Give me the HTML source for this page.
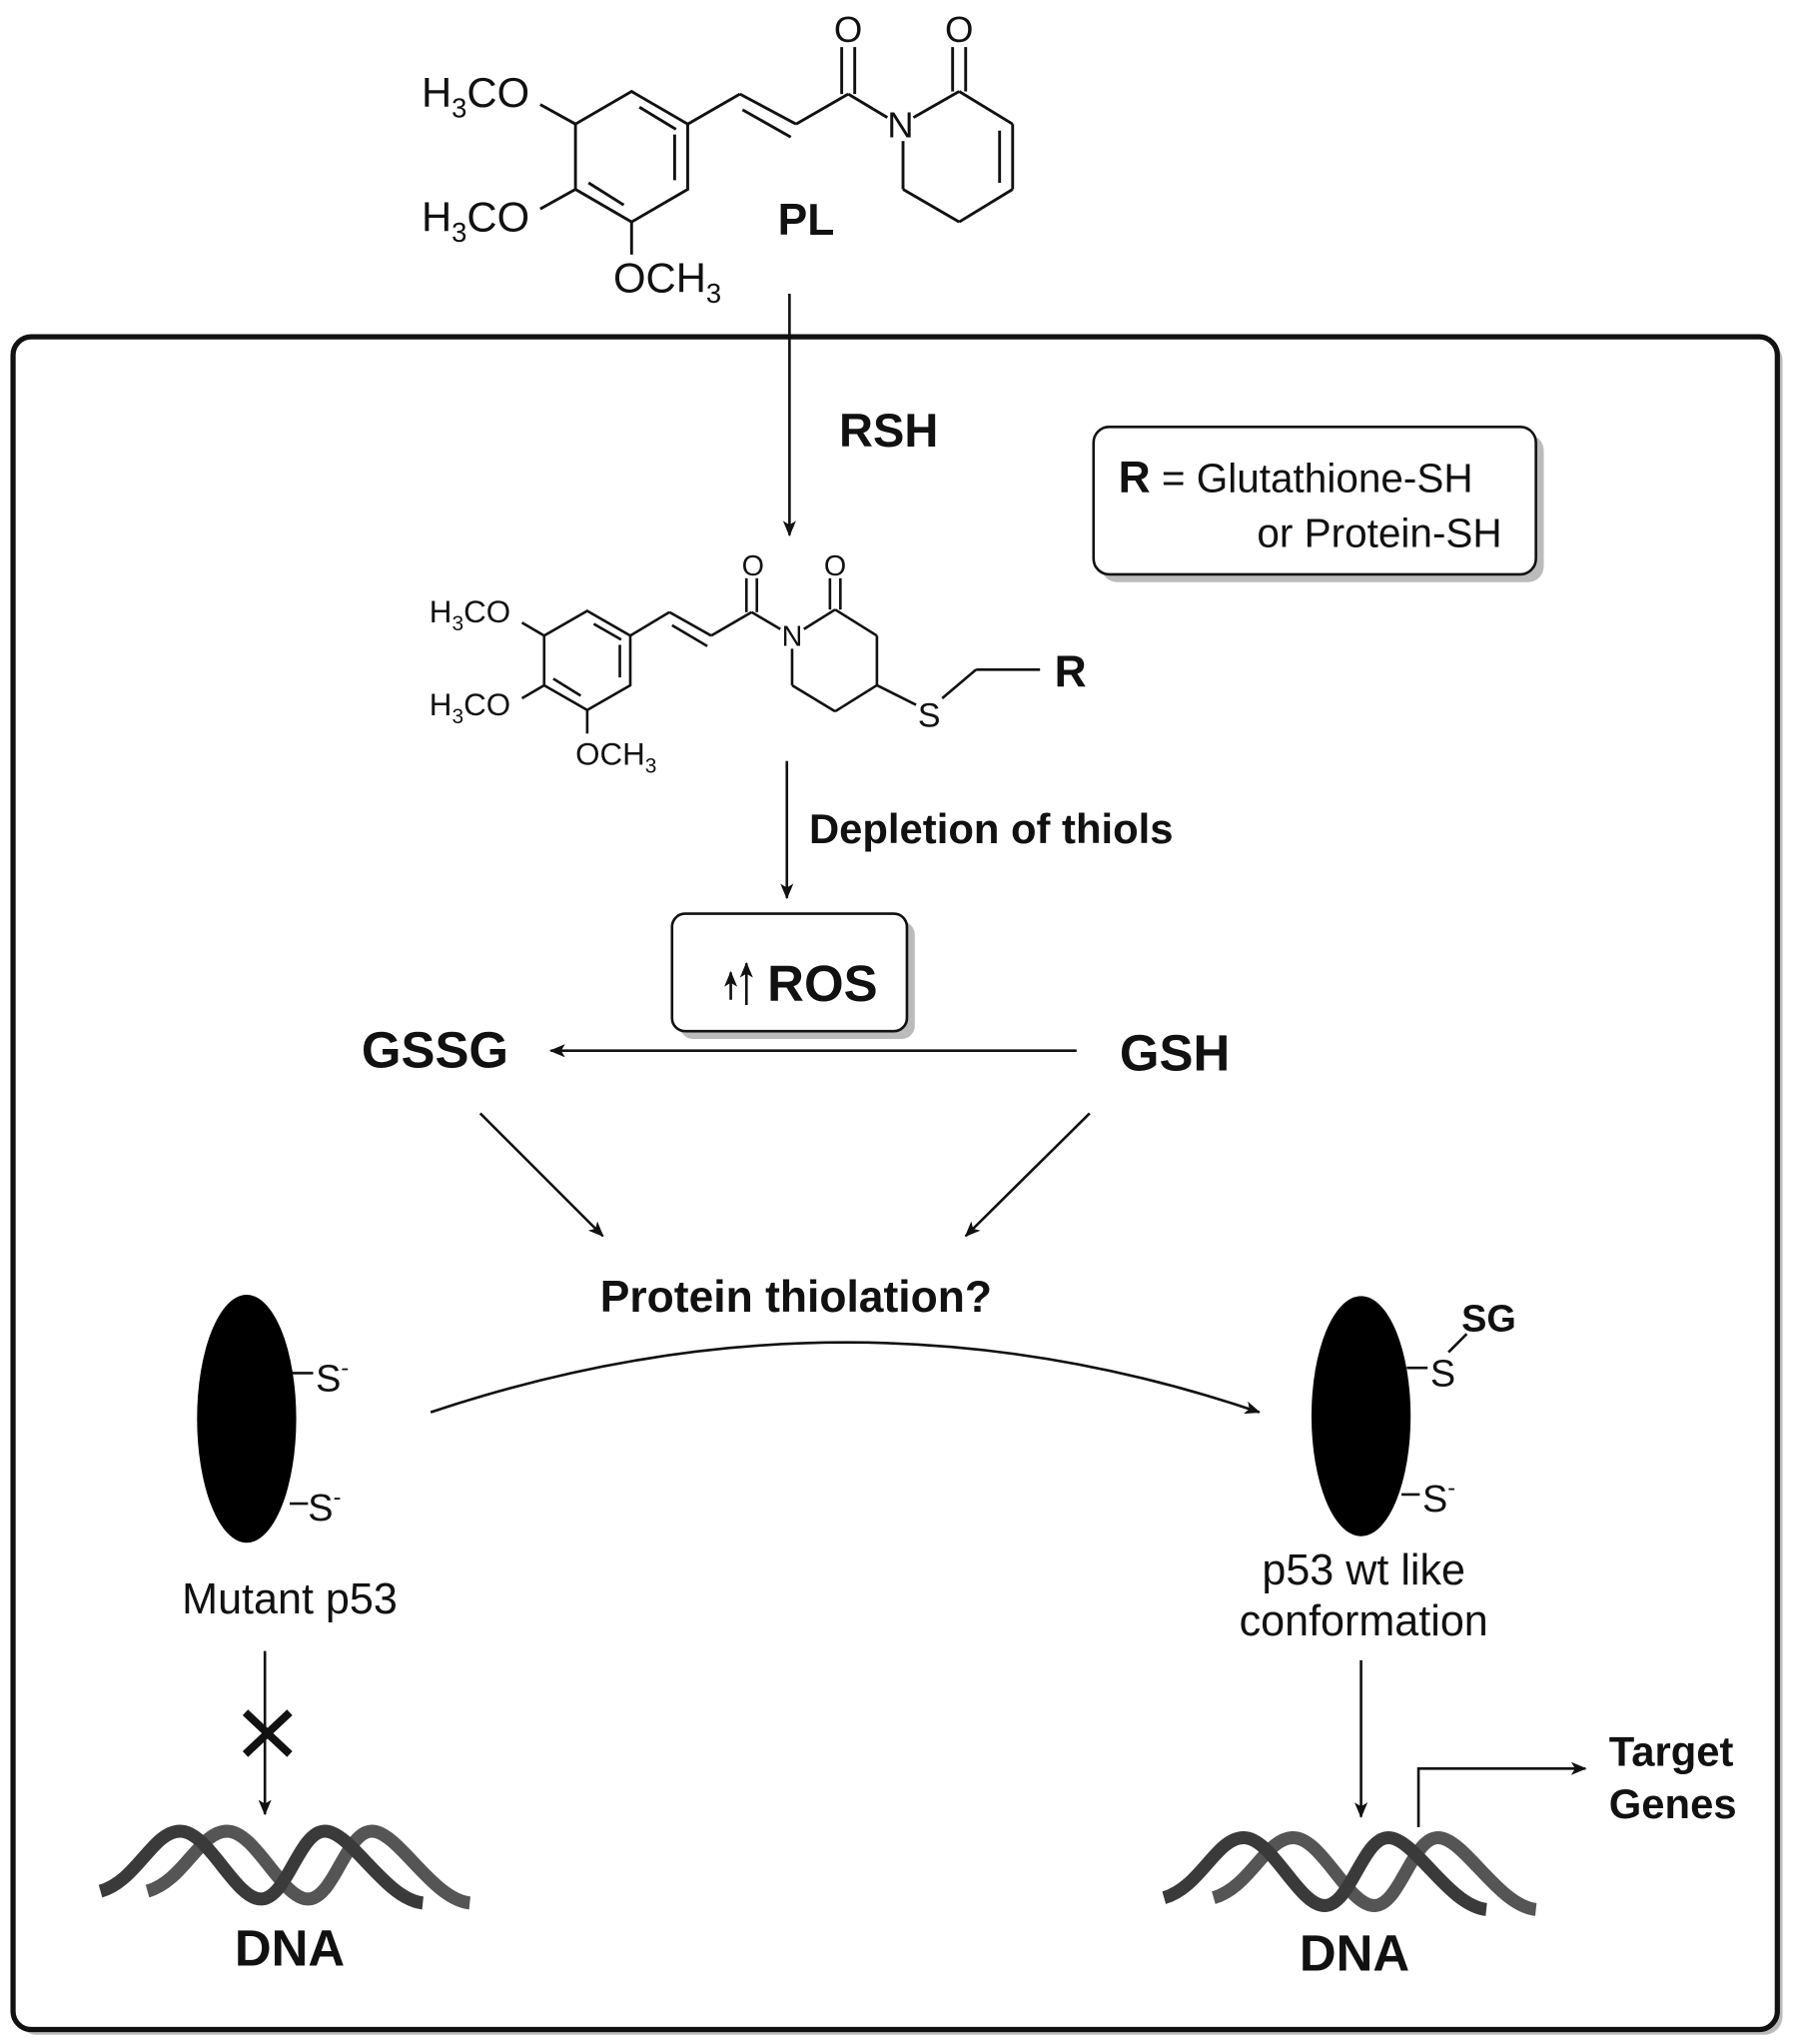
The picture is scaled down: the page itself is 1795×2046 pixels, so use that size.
<!DOCTYPE html>
<html><head><meta charset="utf-8"><style>
html,body{margin:0;padding:0;background:#fff}
svg{display:block}
text{font-family:"Liberation Sans",Arial,sans-serif;fill:#111}
.b{font-weight:bold}
</style></head><body>
<svg width="1795" height="2046" viewBox="0 0 1374 1566" xmlns="http://www.w3.org/2000/svg">
<defs>
<marker id="ah" viewBox="0 0 12 10" refX="11" refY="5" markerWidth="12" markerHeight="10" markerUnits="userSpaceOnUse" orient="auto"><path d="M0,0 L12,5 L0,10 L3,5 z" fill="#111"/></marker>
<path id="strand" d="M0,46 C28,38 40,0 61,0 C83,0 103,52 123,52 C143,52 152,0 172,0 C192,0 218,52 247,55"/>
</defs>
<!-- main box -->
<rect x="14" y="262" width="1352" height="1297" rx="14" fill="#bbb"/>
<rect x="10" y="258" width="1352" height="1297" rx="14" fill="#fff" stroke="#111" stroke-width="4"/>

<!-- PL structure -->
<g stroke="#111" stroke-width="2.2" fill="none">
<polygon points="484,70 527,95 527,145 484,170 441,145 441,95"/>
<line x1="490" y1="82" x2="518" y2="99"/><line x1="517" y1="103" x2="517" y2="138"/><line x1="451" y1="140" x2="478" y2="157"/>
<line x1="441" y1="95" x2="414" y2="80"/><line x1="441" y1="145" x2="414" y2="160"/><line x1="484" y1="170" x2="484" y2="195"/>
<line x1="527" y1="95" x2="567" y2="72"/><line x1="567" y1="72" x2="610" y2="95"/><line x1="569" y1="84" x2="606" y2="105"/>
<line x1="610" y1="95" x2="650" y2="72"/><line x1="645" y1="72" x2="645" y2="36"/><line x1="655" y1="72" x2="655" y2="36"/>
<line x1="650" y1="72" x2="680" y2="90"/>
<line x1="700" y1="90" x2="735" y2="70"/><line x1="730" y1="70" x2="730" y2="36"/><line x1="740" y1="70" x2="740" y2="36"/>
<line x1="735" y1="70" x2="776" y2="95"/><line x1="776" y1="95" x2="776" y2="145"/><line x1="766" y1="100" x2="766" y2="140"/>
<line x1="776" y1="145" x2="735" y2="170"/><line x1="735" y1="170" x2="692" y2="145"/><line x1="692" y1="145" x2="692" y2="108"/>
</g>
<text x="650" y="32" font-size="28" text-anchor="middle">O</text>
<text x="735" y="32" font-size="28" text-anchor="middle">O</text>
<text x="690" y="105" font-size="28" text-anchor="middle">N</text>
<text x="323" y="82" font-size="32">H<tspan font-size="21" dy="8">3</tspan><tspan dy="-8">CO</tspan></text>
<text x="323" y="177" font-size="32">H<tspan font-size="21" dy="8">3</tspan><tspan dy="-8">CO</tspan></text>
<text x="470" y="224" font-size="32">OCH<tspan font-size="21" dy="8">3</tspan></text>
<text x="596" y="180" font-size="34" class="b">PL</text>

<line x1="605" y1="225" x2="605" y2="410" stroke="#111" stroke-width="2" marker-end="url(#ah)"/>
<text x="643" y="342" font-size="36" class="b">RSH</text>

<!-- R box -->
<rect x="844" y="333" width="339" height="113" rx="12" fill="#bbb"/>
<rect x="838" y="327" width="339" height="113" rx="12" fill="#fff" stroke="#111" stroke-width="2"/>
<text x="857" y="377" font-size="31"><tspan class="b" font-size="34">R</tspan> = Glutathione-SH</text>
<text x="1151" y="419" font-size="31" text-anchor="end">or Protein-SH</text>

<!-- second structure -->
<g stroke="#111" stroke-width="2" fill="none">
<polygon points="450,468 483,487 483,525 450,544 417,525 417,487"/>
<line x1="455" y1="478" x2="476" y2="490"/><line x1="475" y1="494" x2="475" y2="519"/><line x1="424" y1="520" x2="445" y2="533"/>
<line x1="417" y1="487" x2="400" y2="477"/><line x1="417" y1="525" x2="400" y2="535"/><line x1="450" y1="544" x2="450" y2="562"/>
<line x1="483" y1="487" x2="513" y2="469"/><line x1="513" y1="469" x2="545" y2="487"/><line x1="515" y1="479" x2="542" y2="495"/>
<line x1="545" y1="487" x2="576" y2="469"/><line x1="572" y1="469" x2="572" y2="443"/><line x1="580" y1="469" x2="580" y2="443"/>
<line x1="576" y1="469" x2="598" y2="482"/>
<line x1="616" y1="482" x2="640" y2="467"/><line x1="636" y1="467" x2="636" y2="443"/><line x1="644" y1="467" x2="644" y2="443"/>
<line x1="640" y1="467" x2="672" y2="487"/><line x1="672" y1="487" x2="672" y2="525"/><line x1="672" y1="525" x2="640" y2="545"/>
<line x1="640" y1="545" x2="607" y2="525"/><line x1="607" y1="525" x2="607" y2="497"/>
<line x1="672" y1="525" x2="702" y2="540"/><line x1="722" y1="535" x2="748" y2="513"/><line x1="748" y1="513" x2="797" y2="513"/>
</g>
<text x="577" y="441" font-size="22" text-anchor="middle">O</text>
<text x="640" y="441" font-size="22" text-anchor="middle">O</text>
<text x="607" y="495" font-size="22" text-anchor="middle">N</text>
<text x="712" y="557" font-size="26" text-anchor="middle">S</text>
<text x="808" y="526" font-size="34" class="b">R</text>
<text x="329" y="477" font-size="24">H<tspan font-size="16" dy="6">3</tspan><tspan dy="-6">CO</tspan></text>
<text x="329" y="548" font-size="24">H<tspan font-size="16" dy="6">3</tspan><tspan dy="-6">CO</tspan></text>
<text x="441" y="586" font-size="24">OCH<tspan font-size="16" dy="6">3</tspan></text>

<line x1="603" y1="583" x2="603" y2="688" stroke="#111" stroke-width="2" marker-end="url(#ah)"/>
<text x="620" y="646" font-size="32" class="b">Depletion of thiols</text>

<!-- ROS -->
<rect x="521" y="706" width="180" height="90" rx="10" fill="#bbb"/>
<rect x="515" y="700" width="180" height="90" rx="10" fill="#fff" stroke="#111" stroke-width="2"/>
<line x1="560" y1="766" x2="560" y2="745" stroke="#111" stroke-width="2" marker-end="url(#ah)"/>
<line x1="572" y1="770" x2="572" y2="738" stroke="#111" stroke-width="2" marker-end="url(#ah)"/>
<text x="588" y="767" font-size="39" class="b">ROS</text>

<text x="277" y="818" font-size="39" class="b">GSSG</text>
<text x="858" y="820" font-size="39" class="b">GSH</text>
<line x1="825" y1="805" x2="422" y2="805" stroke="#111" stroke-width="2" marker-end="url(#ah)"/>
<line x1="368" y1="853" x2="462" y2="947" stroke="#111" stroke-width="2" marker-end="url(#ah)"/>
<line x1="835" y1="853" x2="740" y2="947" stroke="#111" stroke-width="2" marker-end="url(#ah)"/>
<text x="610" y="1005" font-size="34" class="b" text-anchor="middle">Protein thiolation?</text>

<!-- left protein -->
<ellipse cx="189" cy="1087" rx="38" ry="95" fill="#000"/>
<line x1="224" y1="1052" x2="240" y2="1052" stroke="#111" stroke-width="2"/>
<line x1="222" y1="1152" x2="236" y2="1152" stroke="#111" stroke-width="2"/>
<text x="242" y="1066" font-size="29">S<tspan font-size="18" dy="-12">-</tspan></text>
<text x="236" y="1165" font-size="29">S<tspan font-size="18" dy="-12">-</tspan></text>
<text x="222" y="1236" font-size="33" text-anchor="middle">Mutant p53</text>

<path d="M330,1082 Q650,975 965,1082" stroke="#111" stroke-width="2" fill="none" marker-end="url(#ah)"/>

<!-- right protein -->
<ellipse cx="1043" cy="1085" rx="38" ry="92" fill="#000"/>
<line x1="1078" y1="1048" x2="1094" y2="1048" stroke="#111" stroke-width="2"/>
<line x1="1110" y1="1036" x2="1124" y2="1022" stroke="#111" stroke-width="2"/>
<line x1="1074" y1="1145" x2="1088" y2="1145" stroke="#111" stroke-width="2"/>
<text x="1096" y="1062" font-size="29">S</text>
<text x="1120" y="1020" font-size="29" class="b">SG</text>
<text x="1090" y="1158" font-size="29">S<tspan font-size="18" dy="-12">-</tspan></text>
<text x="1045" y="1214" font-size="33" text-anchor="middle">p53 wt like</text>
<text x="1045" y="1253" font-size="33" text-anchor="middle">conformation</text>

<!-- left arrow with X -->
<line x1="203" y1="1265" x2="203" y2="1390" stroke="#111" stroke-width="2" marker-end="url(#ah)"/>
<line x1="188" y1="1312" x2="222" y2="1344" stroke="#111" stroke-width="6"/>
<line x1="222" y1="1312" x2="188" y2="1344" stroke="#111" stroke-width="6"/>

<!-- DNA left -->
<g fill="none" stroke-width="10">
<use href="#strand" transform="translate(113,1403)" stroke="#555"/>
<use href="#strand" transform="translate(77,1403)" stroke="#3a3a3a"/>
</g>
<text x="222" y="1506" font-size="39" class="b" text-anchor="middle">DNA</text>

<!-- right -->
<line x1="1043" y1="1272" x2="1043" y2="1392" stroke="#111" stroke-width="2" marker-end="url(#ah)"/>
<polyline points="1087,1400 1087,1355 1215,1355" stroke="#111" stroke-width="2" fill="none" marker-end="url(#ah)"/>
<text x="1233" y="1353" font-size="32" class="b">Target</text>
<text x="1233" y="1393" font-size="32" class="b">Genes</text>
<g fill="none" stroke-width="10">
<use href="#strand" transform="translate(930,1408)" stroke="#555"/>
<use href="#strand" transform="translate(892,1408)" stroke="#3a3a3a"/>
</g>
<text x="1038" y="1510" font-size="39" class="b" text-anchor="middle">DNA</text>
</svg>
</body></html>
